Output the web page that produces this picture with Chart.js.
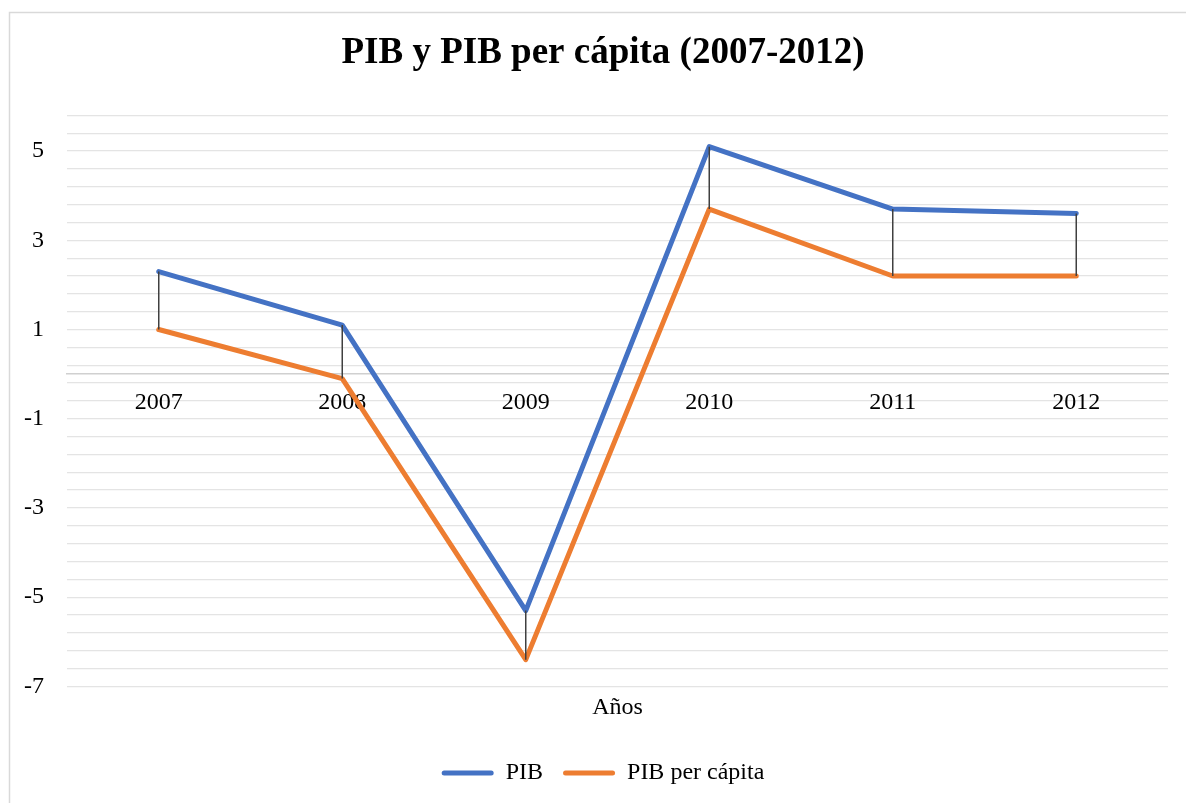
<!DOCTYPE html>
<html>
<head>
<meta charset="utf-8">
<script src="https://cdn.jsdelivr.net/npm/chart.js@4/dist/chart.umd.min.js"></script>
<style>
  html, body { margin: 0; padding: 0; background: #ffffff; }
  #wrap { position: relative; width: 1186px; height: 803px; }
</style>
</head>
<body>
<div id="wrap"><canvas id="c" width="1186" height="803"></canvas></div>
<script>
const years = ['2007', '2008', '2009', '2010', '2011', '2012'];
const pib = [2.3, 1.1, -5.3, 5.1, 3.7, 3.6];
const pibPerCapita = [1.0, -0.1, -6.4, 3.7, 2.2, 2.2];
const yTickLabels = [5, 3, 1, -1, -3, -5, -7];
const seriesNames = ['PIB', 'PIB per cápita'];
const titleText = 'PIB y PIB per cápita (2007-2012)';
const xTitleText = 'Años';

const FONT = "'Liberation Serif', 'Times New Roman', serif";
const BLUE = '#4472C4';
const ORANGE = '#ED7D31';

const framePlugin = {
  id: 'frame',
  beforeDraw(chart) {
    const ctx = chart.ctx;
    ctx.save();
    ctx.fillStyle = '#ffffff';
    ctx.fillRect(0, 0, chart.width, chart.height);
    ctx.strokeStyle = '#d9d9d9';
    ctx.lineWidth = 1.5;
    ctx.strokeRect(9.5, 12.5, chart.width + 20, chart.height + 20);
    ctx.restore();
  }
};

const dropLinesPlugin = {
  id: 'dropLines',
  afterDatasetsDraw(chart) {
    const m0 = chart.getDatasetMeta(0);
    const m1 = chart.getDatasetMeta(1);
    const ctx = chart.ctx;
    ctx.save();
    ctx.strokeStyle = '#404040';
    ctx.lineWidth = 1.5;
    for (let i = 0; i < m0.data.length; i++) {
      const a = m0.data[i], b = m1.data[i];
      ctx.beginPath();
      ctx.moveTo(a.x, a.y);
      ctx.lineTo(b.x, b.y);
      ctx.stroke();
    }
    ctx.restore();
  }
};

new Chart(document.getElementById('c'), {
  type: 'line',
  data: {
    labels: years,
    datasets: [
      { label: seriesNames[0], data: pib, borderColor: BLUE, backgroundColor: BLUE, borderWidth: 5,
        pointRadius: 0, borderCapStyle: 'round', borderJoinStyle: 'round', tension: 0 },
      { label: seriesNames[1], data: pibPerCapita, borderColor: ORANGE, backgroundColor: ORANGE, borderWidth: 5,
        pointRadius: 0, borderCapStyle: 'round', borderJoinStyle: 'round', tension: 0 }
    ]
  },
  options: {
    responsive: false,
    animation: false,
    events: [],
    layout: { padding: { left: 20, right: 0, top: 0, bottom: 8 } },
    plugins: {
      tooltip: { enabled: false },
      title: {
        display: true,
        text: titleText,
        color: '#000000',
        font: { family: FONT, size: 37, weight: 'bold' },
        padding: { top: 31, bottom: 40 }
      },
      legend: {
        display: true,
        position: 'bottom',
        labels: {
          color: '#000000',
          font: { family: FONT, size: 24 },
          boxWidth: 52,
          boxHeight: 5,
          padding: 20,
          generateLabels(chart) {
            return chart.data.datasets.map((ds, i) => ({
              text: ds.label,
              fillStyle: ds.borderColor,
              strokeStyle: ds.borderColor,
              lineWidth: 0,
              hidden: false,
              datasetIndex: i,
              borderRadius: 2.5,
              fontColor: '#000000'
            }));
          }
        }
      }
    },
    scales: {
      x: {
        type: 'category',
        position: { y: 0 },
        offset: true,
        grid: { display: false, drawTicks: false },
        border: { display: true, color: '#d0d0d0', width: 1.5 },
        ticks: { color: '#000000', font: { family: FONT, size: 24 }, padding: 14, maxRotation: 0, autoSkip: false }
      },
      x2: {
        type: 'category',
        position: 'bottom',
        labels: years,
        offset: true,
        grid: { display: false, drawTicks: false },
        border: { display: false },
        ticks: { display: false },
        title: { display: true, text: xTitleText, color: '#000000', font: { family: FONT, size: 24 }, padding: { top: 7, bottom: 18.8 } }
      },
      y: {
        type: 'linear',
        position: 'left',
        min: -7,
        max: 5.8,
        grid: { color: '#e4e4e4', lineWidth: 1.3, drawTicks: false },
        border: { display: false },
        ticks: {
          stepSize: 0.4,
          maxTicksLimit: 100,
          autoSkip: false,
          padding: 23,
          color: '#000000',
          font: { family: FONT, size: 24 },
          callback(value) {
            const r = Math.round(value);
            if (Math.abs(value - r) < 1e-6 && yTickLabels.includes(r)) return String(r);
            return '';
          }
        },
        afterFit(scale) { scale.width = 47; }
      },
      yRight: {
        type: 'linear',
        position: 'right',
        display: true,
        grid: { display: false, drawTicks: false },
        border: { display: false },
        ticks: { display: false },
        afterFit(scale) { scale.width = 18; }
      }
    }
  },
  plugins: [framePlugin, dropLinesPlugin]
});
</script>
</body>
</html>
